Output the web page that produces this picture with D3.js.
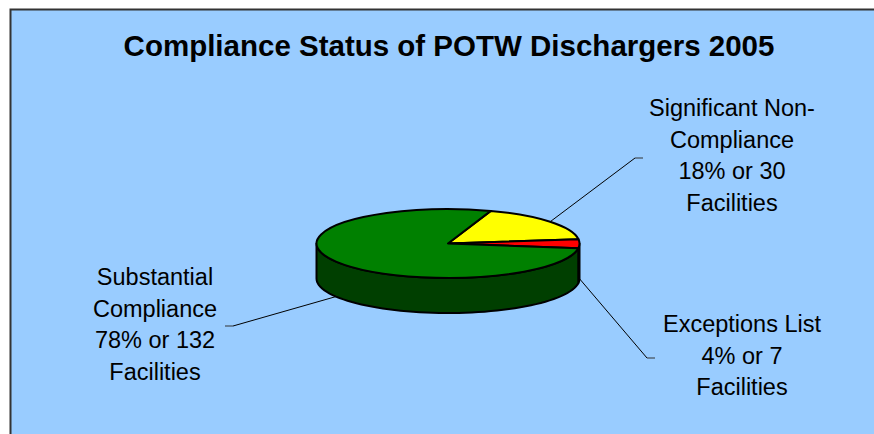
<!DOCTYPE html>
<html>
<head>
<meta charset="utf-8">
<style>
  body { margin: 0; background: #fff; }
  text { font-family: "Liberation Sans", Arial, sans-serif; fill: #000; }
</style>
</head>
<body>
<script src="https://cdnjs.cloudflare.com/ajax/libs/d3/7.8.5/d3.min.js"></script>
<script>
  // data
  const categories = ['Significant Non-Compliance', 'Exceptions List', 'Substantial Compliance']
  const facilities = [30, 7, 132]
  const percents = [18, 4, 78]
  const labelLines = [
    ['Significant Non-', 'Compliance', '18% or 30', 'Facilities'],
    ['Exceptions List', '4% or 7', 'Facilities'],
    ['Substantial', 'Compliance', '78% or 132', 'Facilities']
  ]
  const title = 'Compliance Status of POTW Dischargers 2005'

  // layout
  const width = 874
  const height = 434
  const cx = 448, cy = 243.5
  const rx = 131.5, ry = 34.5
  const depth = 35
  const topColors = ['#ffff00', '#ff0000', '#008000']
  const sideColors = ['#999900', '#990000', '#003f00']
  // where each label sits: leader end (ex, ey), tick direction, text centre and first baseline
  const labelPos = [
    { ex: 635, ey: 158, tick: 8, tx: 732, ty: 116 },
    { ex: 647, ey: 358, tick: 8, tx: 742, ty: 332 },
    { ex: 233, ey: 326, tick: -8, tx: 155, ty: 285 }
  ]
  const lineGap = 31.7

  const svg = d3.select('body').append('svg')
    .attr('width', width)
    .attr('height', height)

  // plot area
  svg.append('rect')
    .attr('x', 10.5).attr('y', 9.5)
    .attr('width', width + 20).attr('height', height + 20)
    .attr('fill', '#99ccff')
    .attr('stroke', '#333')
    .attr('stroke-width', 2)

  svg.append('text')
    .attr('x', 449).attr('y', 56)
    .attr('text-anchor', 'middle')
    .attr('font-size', 29.5)
    .attr('font-weight', 'bold')
    .text(title)

  const rad = Math.PI / 180
  const start = 19 * rad
  const pie = d3.pie().sort(null).startAngle(start).endAngle(start + 2 * Math.PI)
  const arcs = pie(facilities)

  const px = a => cx + rx * Math.sin(a)
  const py = a => cy - ry * Math.cos(a)

  // front sides (angles 90..270 deg in d3 terms)
  const g = svg.append('g')
  const line = d3.line()
  arcs.forEach((d, i) => {
    // check both this turn and the next for the visible front band
    [0, 2 * Math.PI].forEach(off => {
      const a0 = Math.max(d.startAngle, Math.PI / 2 + off)
      const a1 = Math.min(d.endAngle, 3 * Math.PI / 2 + off)
      if (a1 <= a0) return
      const steps = d3.range(0, 1.0001, 1 / 60).map(t => a0 + (a1 - a0) * t)
      const topPts = steps.map(a => [px(a), py(a)])
      const botPts = steps.slice().reverse().map(a => [px(a), py(a) + depth])
      g.append('path')
        .attr('d', line(topPts.concat(botPts)) + 'Z')
        .attr('fill', sideColors[i])
        .attr('stroke', '#000')
        .attr('stroke-width', 2)
        .attr('stroke-linejoin', 'round')
    })
  })

  // top faces: circular arcs squashed into an ellipse
  const arc = d3.arc().innerRadius(0).outerRadius(rx)
  g.selectAll('path.top')
    .data(arcs)
    .enter().append('path')
    .attr('class', 'top')
    .attr('transform', `translate(${cx},${cy}) scale(1,${ry / rx})`)
    .attr('d', arc)
    .attr('fill', (d, i) => topColors[i])
    .attr('stroke', '#000')
    .attr('stroke-width', 2)
    .attr('stroke-linejoin', 'round')
    .attr('vector-effect', 'non-scaling-stroke')

  // leader lines and labels
  arcs.forEach((d, i) => {
    const mid = (d.startAngle + d.endAngle) / 2
    let ax = px(mid), ay = py(mid)
    if (Math.cos(mid) < 0) ay += depth
    const p = labelPos[i]
    svg.append('path')
      .attr('d', `M${ax},${ay}L${p.ex},${p.ey}`)
      .attr('stroke', '#000')
      .attr('stroke-width', 1)
      .attr('fill', 'none')
    svg.append('path')
      .attr('d', `M${p.ex},${p.ey}L${p.ex + p.tick},${p.ey}`)
      .attr('stroke', '#556677')
      .attr('stroke-width', 1.5)
    const t = svg.append('text')
      .attr('text-anchor', 'middle')
      .attr('font-size', 23.5)
    labelLines[i].forEach((s, k) => {
      t.append('tspan')
        .attr('x', p.tx)
        .attr('y', p.ty + k * lineGap)
        .text(s)
    })
  })
</script>
</body>
</html>
